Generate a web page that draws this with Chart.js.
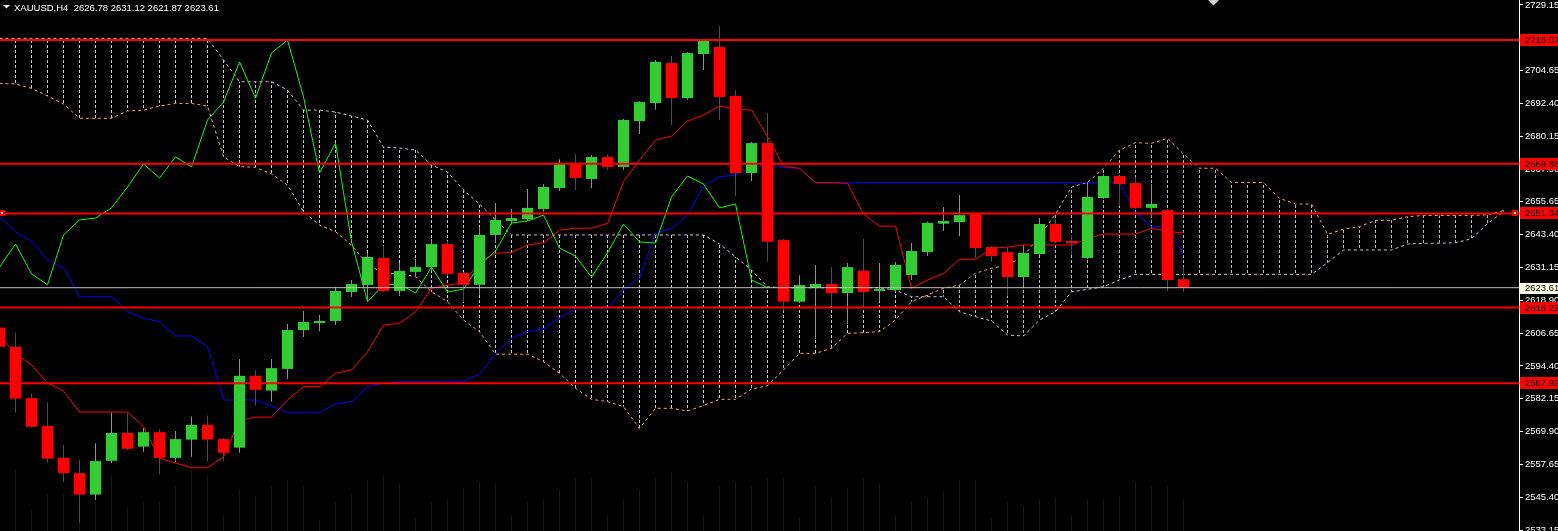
<!DOCTYPE html>
<html>
<head>
<meta charset="utf-8">
<title>XAUUSD,H4</title>
<script src="https://cdn.jsdelivr.net/npm/chart.js@4.4.1/dist/chart.umd.min.js"></script>
<style>
  html, body { margin: 0; padding: 0; background: #000; overflow: hidden; }
  canvas { display: block; }
</style>
</head>
<body>
<canvas id="chart" width="1558" height="531"></canvas>
<script>
const symbolTitle = 'XAUUSD,H4';

const candleOpen = [
  2608.7, 2601.5, 2582.4, 2572.0, 2560.1, 2554.4, 2546.4, 2559.0, 2569.4, 2564.3,
  2569.7, 2560.1, 2566.9, 2572.4, 2567.1, 2563.9, 2590.7, 2585.2, 2593.3, 2607.8,
  2610.4, 2611.2, 2622.0, 2624.6, 2634.7, 2622.4, 2629.5, 2631.3, 2639.9, 2629.1,
  2624.7, 2643.3, 2648.5, 2649.25, 2653.0, 2660.8, 2669.8, 2664.2, 2672.4, 2668.7,
  2685.8, 2692.5, 2707.5, 2694.4, 2710.85, 2713.5, 2695.2, 2666.4, 2677.6, 2641.4,
  2618.4, 2623.5, 2625.0, 2621.6, 2630.0, 2622.4, 2622.75, 2628.35, 2636.9, 2647.5,
  2648.1, 2651.1, 2638.8, 2636.9, 2627.6, 2636.2, 2647.4, 2641.05, 2634.7, 2657.1,
  2665.3, 2662.7, 2653.4, 2652.6, 2626.78
];
const candleHigh = [
  2610.5, 2606.8, 2584.2, 2580.9, 2564.9, 2559.3, 2565.6, 2577.0, 2577.0, 2571.2,
  2570.9, 2570.1, 2575.5, 2575.8, 2567.5, 2597.0, 2592.9, 2597.0, 2610.1, 2614.9,
  2613.4, 2623.9, 2626.5, 2636.6, 2639.2, 2632.8, 2634.3, 2641.8, 2641.0, 2629.4,
  2646.3, 2655.2, 2653.0, 2660.5, 2662.3, 2671.6, 2673.5, 2673.1, 2673.5, 2686.6,
  2693.3, 2708.6, 2710.1, 2711.6, 2716.4, 2721.3, 2697.4, 2678.0, 2688.8, 2641.8,
  2628.3, 2632.1, 2631.3, 2632.8, 2641.8, 2632.8, 2633.2, 2640.3, 2648.2, 2653.7,
  2658.2, 2651.5, 2639.2, 2638.8, 2639.5, 2649.6, 2649.2, 2643.3, 2663.1, 2666.0,
  2665.5, 2664.9, 2662.3, 2653.0, 2631.12
];
const candleLow = [
  2600.5, 2576.9, 2571.4, 2558.3, 2551.2, 2535.9, 2544.4, 2558.1, 2563.0, 2562.4,
  2554.0, 2558.5, 2560.5, 2558.7, 2559.0, 2562.0, 2579.6, 2581.1, 2589.5, 2605.2,
  2607.4, 2609.7, 2620.1, 2618.6, 2622.0, 2620.5, 2627.6, 2629.8, 2628.0, 2618.3,
  2621.0, 2640.4, 2647.2, 2648.5, 2652.0, 2659.7, 2660.1, 2660.8, 2667.6, 2667.6,
  2681.0, 2690.0, 2684.3, 2693.8, 2704.9, 2686.2, 2657.8, 2663.4, 2633.3, 2615.0,
  2618.0, 2604.5, 2616.8, 2610.1, 2616.5, 2618.6, 2622.0, 2626.5, 2635.4, 2644.8,
  2642.9, 2634.6, 2633.2, 2620.5, 2624.25, 2635.8, 2640.4, 2635.8, 2634.3, 2656.8,
  2654.1, 2652.9, 2649.6, 2622.4, 2621.87
];
const candleClose = [
  2601.6, 2582.2, 2571.7, 2559.8, 2554.4, 2546.4, 2558.9, 2569.4, 2563.5, 2569.7,
  2560.1, 2567.1, 2572.4, 2566.9, 2562.0, 2590.7, 2585.5, 2593.6, 2607.8, 2610.8,
  2611.2, 2622.4, 2625.0, 2635.1, 2622.4, 2629.9, 2631.3, 2639.9, 2628.8, 2624.7,
  2643.3, 2648.9, 2649.6, 2653.4, 2661.2, 2669.8, 2664.6, 2672.4, 2668.7, 2686.2,
  2692.9, 2707.9, 2694.4, 2711.2, 2716.07, 2694.8, 2666.4, 2677.6, 2640.8, 2618.4,
  2624.6, 2625.0, 2621.6, 2631.3, 2622.0, 2623.1, 2632.1, 2637.3, 2647.8, 2648.5,
  2650.7, 2638.4, 2635.4, 2627.6, 2636.6, 2647.4, 2640.7, 2640.3, 2657.5, 2665.3,
  2662.3, 2653.4, 2654.85, 2626.5, 2623.61
];

// Volumes tick (échelle relative)
const volumes = [
  40, 62, 20, 37, 37, 8, 31, 56, 24, 28,
  30, 45, 61, 56, 16, 42, 35, 45, 51, 44,
  11, 29, 36, 51, 56, 47, 13, 29, 32, 43,
  49, 48, 15, 28, 32, 41, 53, 52, 16, 32,
  41, 52, 59, 49, 16, 45, 49, 45, 53, 52,
  14, 45, 34, 43, 53, 47, 15, 30, 33, 40,
  51, 51, 13, 28, 25, 31, 34, 15, 31, 32,
  35, 49, 45, 44, 32
];

// Ichimoku : Tenkan-sen (rouge) et Kijun-sen (bleu)
const tenkan = [
  2605.6, 2599.0, 2594.75, 2588.0, 2585.0, 2577.2, 2577.2, 2577.2, 2577.2, 2571.7,
  2559.9, 2558.2, 2556.4, 2556.4, 2560.5, 2574.0, 2575.3, 2575.3, 2581.7, 2586.7,
  2586.7, 2591.7, 2592.9, 2599.7, 2609.7, 2610.3, 2614.65, 2623.4, 2624.6, 2625.25,
  2633.3, 2636.45, 2636.8, 2639.55, 2640.4, 2645.1, 2645.8, 2645.8, 2647.65, 2663.2,
  2671.3, 2678.7, 2680.2, 2685.8, 2688.1, 2691.4, 2690.2, 2689.9, 2680.0, 2668.8,
  2668.2, 2662.8, 2662.8, 2662.6, 2651.1, 2646.6, 2646.6, 2623.4, 2626.5, 2629.0,
  2634.2, 2634.2, 2638.3, 2638.8, 2639.55, 2639.55, 2639.55, 2639.55, 2642.0, 2643.65,
  2643.65, 2643.65, 2645.8, 2644.6, 2644.0
];
const kijun = [
  2650.2, 2644.5, 2640.8, 2634.0, 2630.85, 2620.25, 2620.25, 2620.25, 2614.65, 2612.2,
  2610.9, 2605.6, 2605.6, 2601.6, 2581.7, 2581.7, 2581.7, 2579.4, 2577.1, 2577.1,
  2577.1, 2580.2, 2581.1, 2586.65, 2587.9, 2588.5, 2588.5, 2588.5, 2588.5, 2588.8,
  2591.3, 2599.2, 2604.8, 2607.3, 2608.2, 2612.3, 2616.0, 2616.0, 2616.0, 2622.75,
  2627.5, 2643.9, 2645.8, 2650.7, 2661.6, 2665.0, 2665.7, 2668.8, 2669.4, 2668.4,
  2668.2, 2662.8, 2662.8, 2662.8, 2662.8, 2662.8, 2662.8, 2662.8, 2662.8, 2662.8,
  2662.8, 2662.8, 2662.8, 2662.8, 2662.8, 2662.8, 2662.8, 2662.8, 2662.8, 2662.8,
  2662.8, 2651.5, 2646.4, 2646.4, 2635.8
];

// Senkou Span A / B (décalées de 26 barres, jusqu'à l'index 94)
const senkouA = [
  2699.9, 2699.65, 2698.0, 2695.2, 2692.2, 2686.85, 2686.85, 2686.85, 2689.6, 2689.9,
  2691.4, 2692.4, 2692.4, 2691.4, 2672.5, 2668.8, 2668.55, 2666.05, 2661.95, 2652.0,
  2647.0, 2644.5, 2639.55, 2632.4, 2628.9, 2628.9, 2627.7, 2622.1, 2618.4, 2611.55,
  2607.2, 2598.8, 2598.8, 2598.8, 2596.0, 2591.65, 2586.1, 2581.95, 2581.1, 2579.2,
  2571.1, 2578.6, 2578.6, 2577.6, 2579.6, 2581.95, 2581.95, 2585.8, 2587.0, 2592.9,
  2599.1, 2599.1, 2601.0, 2606.6, 2606.8, 2607.2, 2611.55, 2618.4, 2620.9, 2623.4,
  2624.6, 2629.0, 2630.85, 2632.0, 2635.4, 2642.9, 2651.1, 2661.2, 2662.9, 2668.2,
  2675.0, 2677.75, 2677.5, 2679.4, 2673.5, 2668.2, 2668.2, 2662.9, 2662.9, 2662.9,
  2657.0, 2654.85, 2654.85, 2643.55, 2645.4, 2646.4, 2648.75, 2648.75, 2650.1, 2650.6,
  2650.6, 2650.6, 2650.6, 2650.8, 2652.4
];
const senkouB = [
  2716.7, 2716.7, 2716.7, 2716.7, 2716.7, 2716.7, 2716.7, 2716.7, 2716.7, 2716.7,
  2716.7, 2716.7, 2716.7, 2716.7, 2708.6, 2700.5, 2700.5, 2700.5, 2697.4, 2689.9,
  2689.9, 2689.2, 2687.7, 2686.2, 2676.1, 2675.75, 2675.0, 2669.4, 2666.8, 2660.1,
  2654.85, 2648.9, 2643.3, 2643.3, 2643.3, 2643.3, 2643.3, 2643.3, 2643.3, 2643.3,
  2643.3, 2643.3, 2643.3, 2643.3, 2643.3, 2640.0, 2635.1, 2630.2, 2623.9, 2623.6,
  2623.6, 2623.6, 2623.6, 2623.6, 2623.6, 2623.6, 2622.7, 2620.25, 2620.25, 2620.25,
  2614.65, 2612.8, 2611.2, 2605.95, 2605.6, 2611.55, 2614.65, 2622.1, 2623.0, 2624.0,
  2626.5, 2628.6, 2628.6, 2628.6, 2628.6, 2628.6, 2628.6, 2628.6, 2628.6, 2628.6,
  2628.6, 2628.6, 2628.6, 2632.95, 2637.7, 2637.7, 2637.7, 2637.7, 2639.9, 2640.2,
  2640.2, 2640.4, 2641.9, 2647.5, 2652.0
];

// Lignes horizontales tracées sur le graphique + prix Bid
const levelPrices = [2716.07, 2669.88, 2651.34, 2616.22, 2587.92];
const selectedLevel = 2651.34;
const bidPrice = 2623.61;

// Graduations de l'échelle des prix
const priceTicks = [2729.15, 2704.65, 2692.40, 2680.15, 2667.90, 2655.65, 2643.40,
  2631.15, 2618.90, 2606.65, 2594.40, 2582.15, 2569.90, 2557.65, 2545.40, 2533.15];

const X_MIN = 0.03125, X_MAX = 94.96875;
const GREEN = '#32CD32', RED = '#FF0000';
const FONT_FAMILY = '"Liberation Sans", Arial, sans-serif';

// Motif pointillé vertical pour le nuage (hachures MT4)
function dashPattern(color) {
  const c = document.createElement('canvas');
  c.width = 1; c.height = 5;
  const g = c.getContext('2d');
  g.fillStyle = color;
  g.fillRect(0, 0, 1, 3);
  return g.createPattern(c, 'repeat');
}
const orangeDash = dashPattern('#F4A460');
const thistleDash = dashPattern('#D8BFD8');

const toPoints = arr => arr.map((v, i) => ({ x: i, y: v }));
const candleColors = candleOpen.map((o, i) => candleClose[i] >= o ? GREEN : RED);

function lineSet(label, data, color, order, extra) {
  return Object.assign({
    type: 'line', label, data, borderColor: color, borderWidth: 1,
    pointRadius: 0, tension: 0, fill: false, order
  }, extra || {});
}

const datasets = [
  // lignes horizontales (objets)
  ...levelPrices.map(v => lineSet('niveau ' + v, [{ x: X_MIN, y: v }, { x: X_MAX, y: v }], RED, 1, { borderWidth: 2 })),
  lineSet('Bid', [{ x: X_MIN, y: bidPrice }, { x: X_MAX, y: bidPrice }], '#C0C0C0', 2),
  {
    type: 'bar', label: 'corps', order: 3,
    data: candleOpen.map((o, i) => ({ x: i, y: [o, candleClose[i]] })),
    backgroundColor: candleColors, barThickness: 11, grouped: false,
    inflateAmount: 0, borderWidth: 0, minBarLength: 1
  },
  {
    type: 'bar', label: 'mèches', order: 4,
    data: candleLow.map((l, i) => ({ x: i, y: [l, candleHigh[i]] })),
    backgroundColor: candleColors, barThickness: 1, grouped: false,
    inflateAmount: 0, borderWidth: 0
  },
  // Chikou span : clôtures reportées 26 barres en arrière
  lineSet('Chikou', candleClose.slice(26).map((c, k) => ({ x: k, y: c })), '#00FF00', 5),
  lineSet('Tenkan', toPoints(tenkan), '#FF0000', 6),
  lineSet('Kijun', toPoints(kijun), '#0000FF', 7),
  lineSet('Senkou A', toPoints(senkouA), '#F4A460', 8, { borderDash: [3, 3] }),
  lineSet('Senkou B', toPoints(senkouB), '#D8BFD8', 9, { borderDash: [3, 3] }),
  {
    type: 'bar', label: 'nuage', order: 10,
    data: senkouA.map((a, i) => ({ x: i, y: [a, senkouB[i]] })),
    backgroundColor: senkouA.map((a, i) => a >= senkouB[i] ? orangeDash : thistleDash),
    barThickness: 1, grouped: false, inflateAmount: 0, borderWidth: 0
  },
  {
    type: 'bar', label: 'volumes', order: 11, yAxisID: 'yv',
    data: toPoints(volumes),
    backgroundColor: '#0000CD', barThickness: 1, grouped: false,
    inflateAmount: 0, borderWidth: 0
  }
];

// Fond noir, étiquettes de prix, en-tête
const overlay = {
  id: 'overlay',
  beforeDraw(chart) {
    const { ctx, width, height } = chart;
    ctx.save();
    ctx.fillStyle = '#000';
    ctx.fillRect(0, 0, width, height);
    ctx.restore();
  },
  afterDraw(chart) {
    const { ctx, chartArea, scales: { y } } = chart;
    const right = chartArea.right;
    ctx.save();
    ctx.font = '9.5px ' + FONT_FAMILY;
    ctx.textBaseline = 'middle';
    ctx.textAlign = 'left';

    levelPrices.forEach(v => {
      const py = Math.round(y.getPixelForValue(v));
      ctx.fillStyle = RED;
      ctx.fillRect(right + 1, py - 6, 40, 12);
      ctx.fillStyle = '#000';
      ctx.fillText(v.toFixed(2), right + 6, py + 0.5);
    });

    const by = Math.round(y.getPixelForValue(bidPrice));
    ctx.fillStyle = '#FFFFE6';
    ctx.fillRect(right + 1, by - 5, 40, 11);
    ctx.fillStyle = '#000';
    ctx.fillText(bidPrice.toFixed(2), right + 6, by + 0.5);

    // points d'ancrage de la ligne sélectionnée
    const sy = Math.round(y.getPixelForValue(selectedLevel));
    [chartArea.left + 2, right - 4].forEach(px => {
      ctx.fillStyle = RED;
      ctx.fillRect(px - 3, sy - 3, 6, 6);
      ctx.fillStyle = '#FFFFFF';
      ctx.fillRect(px - 1, sy - 1, 2, 2);
    });

    // marqueur de décalage du graphique
    ctx.fillStyle = '#D0D0D0';
    ctx.beginPath();
    ctx.moveTo(1208, 0); ctx.lineTo(1219, 0); ctx.lineTo(1213.5, 5.5);
    ctx.closePath(); ctx.fill();

    // en-tête
    ctx.fillStyle = '#FFFFFF';
    ctx.beginPath();
    ctx.moveTo(3, 5); ctx.lineTo(10, 5); ctx.lineTo(6.5, 8.5);
    ctx.closePath(); ctx.fill();
    const last = candleOpen.length - 1;
    const header = symbolTitle + '  ' + [candleOpen[last], candleHigh[last], candleLow[last], candleClose[last]]
      .map(v => v.toFixed(2)).join(' ');
    ctx.textBaseline = 'alphabetic';
    ctx.fillText(header, 14, 11);
    ctx.restore();
  }
};

const chart = new Chart(document.getElementById('chart'), {
  type: 'bar',
  data: { datasets },
  options: {
    responsive: false,
    devicePixelRatio: 1,
    animation: false,
    events: [],
    layout: { padding: 0 },
    plugins: { legend: { display: false }, tooltip: { enabled: false } },
    scales: {
      x: { type: 'linear', offset: false, min: X_MIN, max: X_MAX, display: false },
      y: {
        type: 'linear', position: 'right', min: 2532.8, max: 2731.0,
        afterBuildTicks: s => { s.ticks = priceTicks.map(v => ({ value: v })); },
        afterFit: s => { s.width = 39; s.paddingTop = 0; s.paddingBottom = 0; },
        ticks: {
          autoSkip: false, color: '#FFFFFF', padding: 2,
          font: { family: FONT_FAMILY, size: 9.5 },
          callback: v => Number(v).toFixed(2)
        },
        grid: { drawOnChartArea: false, color: '#FFFFFF', tickLength: 4 },
        border: { color: '#FFFFFF', width: 1 }
      },
      yv: { type: 'linear', min: 0, max: 531, display: false }
    }
  },
  plugins: [overlay]
});
</script>
</body>
</html>
